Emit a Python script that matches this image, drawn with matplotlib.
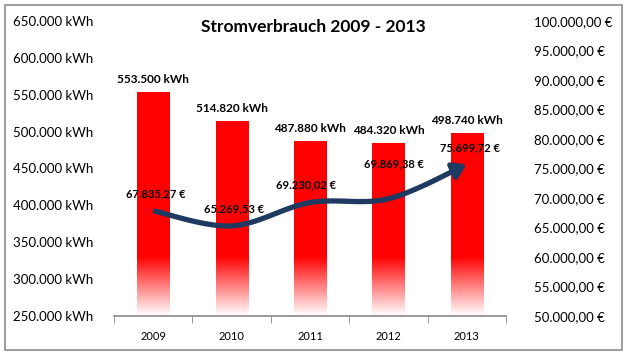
import numpy as np
import matplotlib
matplotlib.use('Agg')
import matplotlib.pyplot as plt
from matplotlib.patches import Rectangle

plt.rcParams['font.family'] = ['Lato', 'DejaVu Sans']

years = ['2009', '2010', '2011', '2012', '2013']
kwh = [553500, 514820, 487880, 484320, 498740]
euro = [67835.27, 65269.53, 69230.02, 69869.38, 75699.72]
kwh_labels = ['553.500 kWh', '514.820 kWh', '487.880 kWh', '484.320 kWh', '498.740 kWh']
euro_labels = ['67.835,27 €', '65.269,53 €', '69.230,02 €', '69.869,38 €', '75.699,72 €']
left_ticks = [250000, 300000, 350000, 400000, 450000, 500000, 550000, 600000, 650000]
right_ticks = [50000, 55000, 60000, 65000, 70000, 75000, 80000, 85000, 90000, 95000, 100000]


def de_num(v, dec):
    s = f'{v:,.{dec}f}'
    return s.replace(',', 'X').replace('.', ',').replace('X', '.')


navy = '#1F3A60'

fig = plt.figure(figsize=(6.27, 3.55), dpi=100)
fig.patches.append(Rectangle((5 / 627, 5 / 355), 617 / 627, 345 / 355, transform=fig.transFigure,
                             fill=False, edgecolor='#8C8C8C', linewidth=1.2))

ax = fig.add_axes([114 / 627, 39 / 355, 392 / 627, 295 / 355])
ax2 = ax.twinx()

x = np.arange(len(years))
bars = ax.bar(x, kwh, width=0.41, color='none', edgecolor='none')
ax.set_xlim(-0.5, len(years) - 0.5)
ax.set_ylim(250000, 650000)

# red bars fading to white near the axis
fade_top = 330000
for b, v in zip(bars, kwh):
    yy = np.linspace(250000, v, 200)
    alpha = np.clip((yy - 250000) / (fade_top - 250000), 0, 1)[:, None]
    img = np.zeros((200, 1, 4))
    img[..., 0] = 1.0
    img[..., 3] = alpha
    im = ax.imshow(img, extent=[b.get_x(), b.get_x() + b.get_width(), 250000, v],
                   origin='lower', aspect='auto', interpolation='bilinear', zorder=2)
    im.set_clip_path(b)
for xi, v, lab in zip(x, kwh, kwh_labels):
    ax.annotate(lab, (xi, v), xytext=(0, 9), textcoords='offset points',
                ha='center', va='center', fontsize=8.5, fontweight='bold')

ax.set_xticks(x)
ax.set_xticklabels(years, fontsize=8)
ax.set_xticks(np.arange(-0.5, len(years)), minor=True)
ax.tick_params(axis='x', which='major', length=0, pad=11)
ax.tick_params(axis='x', which='minor', length=5, color='#888888', direction='out')
ax.set_yticks(left_ticks)
ax.set_yticklabels([de_num(t, 0) + ' kWh' for t in left_ticks], fontsize=9.5)
ax.tick_params(axis='y', length=0, pad=15)
for s in ['top', 'left', 'right']:
    ax.spines[s].set_visible(False)
    ax2.spines[s].set_visible(False)
ax.spines['bottom'].set_color('#888888')
ax.spines['bottom'].set_linewidth(1.2)
ax2.spines['bottom'].set_visible(False)

# smoothed cost line (Catmull-Rom like Excel's smoothing)
ax2.set_ylim(50000, 100000)
ax2.set_yticks(right_ticks)
ax2.set_yticklabels([de_num(t, 2) + ' €' for t in right_ticks], fontsize=9.5)
ax2.tick_params(axis='y', length=0, pad=20)

px = np.array(x, dtype=float)
py = np.array(euro)
P = np.column_stack([px, py])
P = np.vstack([P[0], P, P[-1]])
xs, ys = [], []
for i in range(1, len(P) - 2):
    p0, p1, p2, p3 = P[i - 1], P[i], P[i + 1], P[i + 2]
    for t in np.linspace(0, 1, 30, endpoint=False):
        pt = 0.5 * ((2 * p1) + (-p0 + p2) * t + (2 * p0 - 5 * p1 + 4 * p2 - p3) * t ** 2
                    + (-p0 + 3 * p1 - 3 * p2 + p3) * t ** 3)
        xs.append(pt[0])
        ys.append(pt[1])
xs.append(px[-1])
ys.append(py[-1])
cut = 6
ax2.plot(xs[:-cut + 1], ys[:-cut + 1], color=navy, linewidth=3.8, solid_capstyle='butt', zorder=3)
ax2.annotate('', xy=(xs[-1], ys[-1]), xytext=(xs[-cut], ys[-cut]),
             arrowprops=dict(arrowstyle='-|>,head_length=0.7,head_width=0.45', color=navy,
                             lw=3.8, shrinkA=0, shrinkB=0, mutation_scale=11))

offsets = [(2, 12), (2, 12), (-3, 13), (4, 25), (2, 12)]
for xi, v, lab, off in zip(x, euro, euro_labels, offsets):
    ax2.annotate(lab, (xi, v), xytext=off, textcoords='offset points',
                 ha='center', va='center', fontsize=8, fontweight='bold', zorder=4)

fig.text(313 / 627, 1 - 27 / 355, 'Stromverbrauch 2009 - 2013', ha='center', va='center',
         fontsize=12.5, fontweight='bold')

fig.savefig('out.png', dpi=100)
